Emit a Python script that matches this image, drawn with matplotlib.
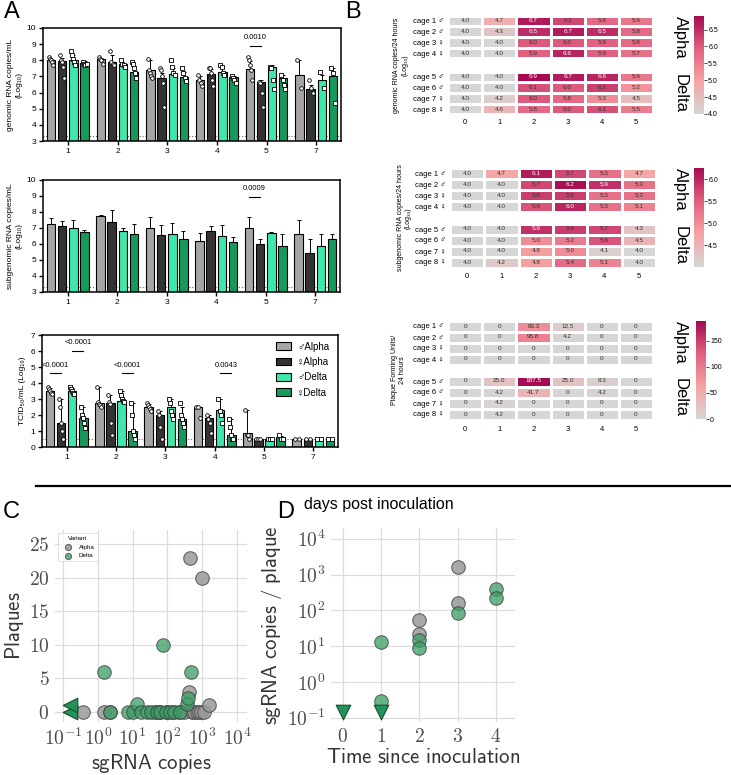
import numpy as np
import matplotlib
matplotlib.use('Agg')
import matplotlib.pyplot as plt
from matplotlib.colors import LinearSegmentedColormap, Normalize
from matplotlib.patches import Patch
from matplotlib.lines import Line2D
from matplotlib.ticker import FuncFormatter

plt.rcParams['font.family'] = ['Liberation Sans', 'DejaVu Sans']
plt.rcParams['mathtext.fontset'] = 'cm'

# ---------------- data ----------------
days = ['1', '2', '3', '4', '5', '7']
groups = ['♂Alpha', '♀Alpha', '♂Delta', '♀Delta']

# panel A, genomic RNA (rows = groups, cols = days)
grna_mean = [[8.0, 8.05, 7.4, 6.75, 7.45, 7.1],
             [7.95, 7.9, 6.9, 7.15, 6.65, 6.2],
             [8.0, 7.75, 7.15, 7.3, 7.6, 6.8],
             [7.85, 7.3, 6.95, 6.95, 6.9, 7.0]]
grna_err = [[0.1, 0.1, 0.6, 0.3, 0.5, 0.9],
            [0.2, 0.4, 0.3, 0.3, 0.1, 0.3],
            [0.3, 0.1, 0.4, 0.3, 0.1, 0.3],
            [0.1, 0.3, 0.3, 0.1, 0.2, 0.5]]
grna_pts = [
    [[8.2, 8.1, 8.0, 7.9, 7.7], [8.2, 8.1, 8.0, 7.8], [8.1, 7.4, 7.2, 7.0, 6.9],
     [7.1, 6.8, 6.6, 6.4], [8.2, 8.0, 7.7, 7.4, 6.8], [8.0, 6.3]],
    [[8.3, 8.0, 7.9, 7.6, 6.9], [8.6, 7.9, 7.8, 7.7], [7.5, 7.4, 7.0, 6.6, 5.1],
     [7.5, 7.5, 7.2, 6.8, 6.4], [6.65, 6.6, 6.0, 5.1], [6.8, 6.3, 6.0]],
    [[8.6, 8.3, 8.1, 7.9, 7.7], [8.0, 7.8, 7.7, 7.6], [8.0, 7.6, 7.2, 7.1],
     [7.7, 7.6, 7.2, 7.1], [7.6, 7.5, 6.8, 6.2], [7.3, 6.3]],
    [[7.9, 7.8, 7.7, 7.8], [7.9, 7.8, 7.5, 7.2, 6.9], [7.5, 7.2, 6.9, 6.7],
     [7.0, 6.9, 6.8, 6.6], [7.1, 6.8, 6.5, 6.2], [7.5, 7.2, 5.35]],
]

# panel A, subgenomic RNA
sgrna_mean = [[7.25, 7.75, 7.0, 6.2, 7.0, 6.6],
              [7.1, 7.37, 6.57, 6.8, 6.0, 5.45],
              [6.97, 6.8, 6.6, 6.5, 6.7, 5.9],
              [6.75, 6.6, 6.3, 6.15, 5.9, 6.3]]
sgrna_err = [[0.35, 0.05, 0.7, 0.5, 0.7, 0.9],
             [0.35, 0.75, 0.6, 0.3, 0.3, 0.85],
             [0.5, 0.2, 0.7, 0.7, 0.05, 0.7],
             [0.15, 0.65, 0.5, 0.3, 0.7, 0.3]]

# panel A, TCID50
tcid_mean = [[3.5, 2.75, 2.5, 2.5, 0.85, 0.5],
             [1.5, 2.75, 2.0, 1.8, 0.5, 0.5],
             [3.5, 2.9, 2.5, 2.3, 0.5, 0.5],
             [1.8, 1.0, 1.75, 0.75, 0.6, 0.5]]
tcid_err = [[0.2, 1.0, 0.2, 0.0, 1.45, 0.0],
            [1.5, 0.5, 0.25, 0.2, 0.0, 0.0],
            [0.2, 0.6, 0.5, 0.7, 0.0, 0.0],
            [0.7, 1.75, 0.75, 1.0, 0.1, 0.0]]
tcid_pts = [
    [[3.75, 3.6, 3.5, 3.4, 3.3], [3.75, 2.8, 2.7, 2.6, 2.5], [2.75, 2.6, 2.5, 2.4, 2.25],
     [2.5, 2.5, 1.8], [2.3, 0.75, 0.75, 0.5], [0.5, 0.5]],
    [[3.0, 2.5, 1.5, 1.0, 0.5], [3.25, 2.8, 2.7, 1.5, 0.75], [2.25, 2.0, 1.25, 0.5],
     [2.0, 1.75, 1.5, 0.9], [0.5, 0.5, 0.5], [0.5, 0.5]],
    [[3.75, 3.6, 3.5, 3.4, 3.3], [3.5, 3.25, 3.0, 2.9, 2.8], [3.0, 2.75, 2.25, 2.0, 1.75],
     [3.0, 2.25, 2.0, 1.5], [0.5, 0.5, 0.5], [0.5, 0.5]],
    [[2.5, 2.0, 1.8, 1.5, 1.2], [2.75, 2.0, 1.0, 0.75, 0.5], [2.75, 2.0, 1.75, 1.5, 1.25],
     [1.75, 1.25, 0.75, 0.5, 0.5], [0.75, 0.5, 0.5], [0.5, 0.5]],
]

# significance: (day index, group a, group b, y, label)
grna_sig = [(4, 0, 1, 8.9, '0.0010')]
sgrna_sig = [(4, 0, 1, 8.95, '0.0009')]
tcid_sig = [(0, 0, 1, 4.6, '<0.0001'), (0, 2, 3, 6.0, '<0.0001'),
            (1, 2, 3, 4.6, '<0.0001'), (3, 2, 3, 4.6, '0.0043')]

# panel B heatmaps
cages = ['cage 1 ♂', 'cage 2 ♂', 'cage 3 ♀', 'cage 4 ♀',
         'cage 5 ♂', 'cage 6 ♂', 'cage 7 ♀', 'cage 8 ♀']
hm_days = [0, 1, 2, 3, 4, 5]
hm_grna = [[4.0, 4.7, 6.7, 6.2, 5.8, 5.6],
           [4.0, 4.3, 6.5, 6.7, 6.5, 5.8],
           [4.0, 4.0, 6.0, 6.0, 5.9, 5.8],
           [4.0, 4.0, 5.9, 6.6, 5.9, 5.7],
           [4.0, 4.0, 6.9, 6.7, 6.6, 5.6],
           [4.0, 4.0, 6.1, 6.0, 6.3, 5.2],
           [4.0, 4.2, 6.0, 5.8, 5.3, 4.5],
           [4.0, 4.6, 5.8, 6.0, 6.1, 5.5]]
hm_sgrna = [[4.0, 4.7, 6.1, 5.7, 5.3, 4.7],
            [4.0, 4.0, 5.7, 6.2, 5.9, 5.3],
            [4.0, 4.0, 5.8, 5.8, 5.3, 5.3],
            [4.0, 4.0, 5.6, 6.0, 5.3, 5.1],
            [4.0, 4.0, 5.9, 5.8, 5.7, 4.3],
            [4.0, 4.0, 5.0, 5.2, 5.6, 4.5],
            [4.0, 4.0, 4.8, 5.0, 4.1, 4.0],
            [4.0, 4.2, 4.8, 5.4, 5.1, 4.0]]
hm_pfu = [[0, 0, 83.3, 12.5, 0, 0],
          [0, 0, 95.8, 4.2, 0, 0],
          [0, 0, 0, 0, 0, 0],
          [0, 0, 0, 0, 0, 0],
          [0, 25.0, 187.5, 25.0, 8.3, 0],
          [0, 4.2, 41.7, 0, 4.2, 0],
          [0, 4.2, 0, 0, 0, 0],
          [0, 4.2, 0, 0, 0, 0]]

# panel C
c_alpha_sg = [0.37, 1.5, 2.2, 44, 60, 95, 150, 220, 300, 420, 450, 500, 600, 700, 800, 900, 980, 1100, 1600]
c_alpha_pl = [0, 0, 0, 0, 0, 0, 0, 0, 0, 3, 23, 0, 0, 0, 0, 0, 20, 0, 1]
c_delta_sg = [1.5, 2.2, 7.4, 10.3, 13.5, 18, 26, 35, 50, 60, 75, 90, 120, 160, 230, 360, 400, 480]
c_delta_pl = [6, 0, 0, 0, 1.2, 0, 0, 0, 0, 0, 10, 0, 0, 0, 0, 1.2, 2.1, 6]
c_delta_low_sg = [0.16, 0.16]
c_delta_low_pl = [0, 1]

# panel D
d_alpha_t = [2, 2, 3, 3]
d_alpha_r = [55, 22, 1650, 160]
d_delta_t = [1, 1, 2, 2, 3, 4, 4]
d_delta_r = [13, 0.3, 15, 9, 85, 400, 225]
d_delta_low_t = [0, 1]
d_delta_low_r = [0.14, 0.14]

# ---------------- figure ----------------
W, H = 731, 775
fig = plt.figure(figsize=(W / 100, H / 100), dpi=100)


def px_axes(l, t, r, b):
    return fig.add_axes([l / W, 1 - b / H, (r - l) / W, (b - t) / H])


bar_cols = ['#a5a5a5', '#333333', '#3ee8ad', '#159a5c']
off = np.array([-1.5, -0.5, 0.5, 1.5]) * 0.225
bw = 0.17


def bar_panel(ax, mean, err, pts, ylim, lod, ylabel, sig):
    x = np.arange(len(days))
    for g in range(4):
        xs = x + off[g]
        m = np.array(mean[g])
        ax.errorbar(xs, m, yerr=[np.zeros(len(m)), err[g]], fmt='none', ecolor='black',
                    elinewidth=0.7, capsize=1.6, capthick=0.7, zorder=1)
        ax.bar(xs, m - ylim[0], bottom=ylim[0], width=bw, color=bar_cols[g],
               edgecolor='black', linewidth=0.8, zorder=2)
        if pts is not None:
            mk = 'o' if g < 2 else 's'
            for d in range(len(days)):
                ys = pts[g][d]
                jx = np.linspace(-0.04, 0.04, len(ys))
                ax.scatter(xs[d] + jx, ys, s=7, marker=mk, facecolor='white',
                           edgecolor='black', linewidth=0.6, zorder=3)
    ax.axhline(lod, color='#555555', ls=(0, (1, 2)), lw=0.7, zorder=0)
    for d, a, b, y, txt in sig:
        x0, x1 = d + off[a], d + off[b]
        ax.plot([x0, x1], [y, y], color='black', lw=0.8)
        ax.text((x0 + x1) / 2, y + 0.3, txt, ha='center', va='bottom', fontsize=5.5)
    ax.set_xlim(-0.5, 5.5)
    ax.set_ylim(*ylim)
    ax.set_yticks(range(int(ylim[0]), int(ylim[1]) + 1))
    ax.set_xticks(x)
    ax.set_xticklabels(days)
    ax.tick_params(labelsize=6, length=3, width=1, pad=2)
    for s in ax.spines.values():
        s.set_linewidth(1.1)
    ax.set_ylabel(ylabel, fontsize=6, labelpad=3)


ax1 = px_axes(43, 28, 341, 141)
bar_panel(ax1, grna_mean, grna_err, grna_pts, (3, 10), 3.3,
          'genomic RNA copies/mL\n(Log₁₀)', grna_sig)
ax2 = px_axes(43, 180, 340, 292)
bar_panel(ax2, sgrna_mean, sgrna_err, None, (3, 10), 3.3,
          'subgenomic RNA copies/mL\n(Log₁₀)', sgrna_sig)
ax3 = px_axes(42, 335, 338, 447)
bar_panel(ax3, tcid_mean, tcid_err, tcid_pts, (0, 7), 0.5,
          'TCID₅₀/mL (Log₁₀)', tcid_sig)
ax3.legend([Patch(facecolor=c, edgecolor='black', lw=0.8) for c in bar_cols], groups,
           loc='upper right', frameon=False, fontsize=7, handlelength=1.6,
           handleheight=0.8, labelspacing=0.55, handletextpad=0.6,
           bbox_to_anchor=(1.0, 1.02))

# ---------------- heatmaps ----------------
hm_cmap = LinearSegmentedColormap.from_list('gp', ['#d6d6d6', '#f5a3a3', '#e0607f', '#a50a52'])


def heat_panel(rows_y, left, right, data, vmin, vmax, fmt, cbar_box, cticks, ylabel, lab_x, tick_y):
    data = np.array(data, dtype=float)
    norm = Normalize(vmin, vmax)
    for k, (t, b) in enumerate(rows_y):
        ax = px_axes(left, t, right, b)
        sub = data[4 * k:4 * k + 4]
        mesh = ax.pcolormesh(np.arange(7) - 0.5, np.arange(5) - 0.5, sub, cmap=hm_cmap,
                             norm=norm, edgecolors='white', linewidth=1.0)
        ax.set_xlim(-0.5, 5.5)
        ax.set_ylim(3.5, -0.5)
        for i in range(4):
            for j in range(6):
                v = sub[i, j]
                col = 'white' if norm(v) > 0.82 else '#333333'
                ax.text(j, i, fmt(v), ha='center', va='center', fontsize=4.6, color=col)
        ax.set_yticks(range(4))
        ax.set_yticklabels(cages[4 * k:4 * k + 4], fontsize=5.5)
        ax.tick_params(length=0, pad=3)
        ax.set_xticks([])
        for s in ax.spines.values():
            s.set_visible(False)
    for j, d in enumerate(hm_days):
        x = left + (right - left) * (j + 0.5) / 6
        fig.text(x / W, 1 - tick_y / H, str(d), ha='center', va='center', fontsize=5.5)
    cax = px_axes(*cbar_box)
    cb = fig.colorbar(mesh, cax=cax, ticks=cticks)
    cb.outline.set_visible(False)
    cax.tick_params(labelsize=5, length=2, width=0.5, pad=1)
    top, bot = rows_y[0][0], rows_y[1][1]
    fig.text(lab_x / W, 1 - (top + bot) / 2 / H, ylabel, rotation=90, ha='center',
             va='center', fontsize=5, linespacing=1.2)
    for name, (t, b) in zip(['Alpha', 'Delta'], rows_y):
        fig.text(680 / W, 1 - (t + b) / 2 / H, name, rotation=270, ha='center',
                 va='center', fontsize=12)


f1 = lambda v: f'{v:.1f}'
f3 = lambda v: '0' if v == 0 else f'{v:.1f}'

heat_panel([(15.6, 58.4), (71.6, 114.4)], 448, 653, hm_grna, 4.0, 6.9, f1,
           (694, 16, 704, 114), [4.0, 4.5, 5.0, 5.5, 6.0, 6.5],
           'genomic RNA copies/24 hours\n(Log₁₀)', 401, 123)
heat_panel([(168, 211.5), (223.5, 267.5)], 450, 656, hm_sgrna, 4.0, 6.25, f1,
           (694, 168, 704, 267), [4.5, 5.0, 5.5, 6.0],
           'subgenomic RNA copies/24 hours\n(Log₁₀)', 404, 277)
heat_panel([(320.5, 364.5), (375.5, 419.5)], 448, 653, hm_pfu, 0, 187.5, f3,
           (696, 321, 706, 419), [0, 50, 100, 150],
           'Plaque Forming Units/\n24 hours', 399, 429)

# divider and shared label
fig.add_artist(Line2D([36 / W, 730 / W], [1 - 486 / H] * 2, color='black', lw=1.6))
fig.text(379 / W, 1 - 505 / H, 'days post inoculation', ha='center', va='center', fontsize=11.5)

# ---------------- panels C and D ----------------
grey_c = '#9a9a9a'
green_c = '#3a9d64'
tick_col = '#4d4d4d'


def style_cd(ax):
    for s in ax.spines.values():
        s.set_visible(False)
    ax.grid(True, color='#dcdcdc', lw=0.9)
    ax.set_axisbelow(True)
    ax.tick_params(length=0, labelsize=14, colors=tick_col, pad=4)


logfmt = FuncFormatter(lambda v, p: f'$10^{{{int(round(np.log10(v)))}}}$')

axc = px_axes(55, 530, 247, 722)
axc.scatter(c_alpha_sg, c_alpha_pl, s=95, color=grey_c, alpha=0.85, edgecolor='#505050',
            linewidth=0.8, label='Alpha', zorder=3)
axc.scatter(c_delta_sg, c_delta_pl, s=95, color=green_c, alpha=0.75, edgecolor='#404040',
            linewidth=0.8, label='Delta', zorder=3)
axc.scatter(c_delta_low_sg, c_delta_low_pl, s=110, marker='<', color='#23915a',
            edgecolor='#1b4d33', linewidth=0.8, zorder=3)
axc.set_xscale('log')
axc.set_xlim(10 ** -1.23, 10 ** 4.29)
axc.set_ylim(-1.5, 27.1)
axc.set_xticks([10.0 ** k for k in range(-1, 5)])
axc.xaxis.set_minor_locator(plt.NullLocator())
axc.xaxis.set_major_formatter(logfmt)
axc.set_yticks([0, 5, 10, 15, 20, 25])
axc.yaxis.set_major_formatter(FuncFormatter(lambda v, p: f'${int(v)}$'))
style_cd(axc)
axc.set_xlabel('$\\mathsf{sgRNA\\ copies}$', fontsize=15, color='#333333', labelpad=2)
axc.set_ylabel('$\\mathsf{Plaques}$', fontsize=15, color='#333333', labelpad=2)
leg = axc.legend(title='Variant', loc='upper left', fontsize=4.5, title_fontsize=4.5,
                 markerscale=0.45, frameon=True, borderpad=0.5, handletextpad=0.8,
                 bbox_to_anchor=(0.0, 1.0))
leg.get_frame().set_edgecolor('#cccccc')
leg.get_frame().set_linewidth(0.5)

axd = px_axes(331, 528, 515, 722)
axd.scatter(d_alpha_t, d_alpha_r, s=95, color=grey_c, alpha=0.85, edgecolor='#505050',
            linewidth=0.8, zorder=3)
axd.scatter(d_delta_t, d_delta_r, s=95, color=green_c, alpha=0.75, edgecolor='#404040',
            linewidth=0.8, zorder=3)
axd.scatter(d_delta_low_t, d_delta_low_r, s=110, marker='v', color='#23915a',
            edgecolor='#1b4d33', linewidth=0.8, zorder=3)
axd.set_yscale('log')
axd.set_xlim(-0.3, 4.5)
axd.set_ylim(10 ** -1.12, 10 ** 4.3)
axd.set_xticks([0, 1, 2, 3, 4])
axd.xaxis.set_major_formatter(FuncFormatter(lambda v, p: f'${int(v)}$'))
axd.set_yticks([10.0 ** k for k in range(-1, 5)])
axd.yaxis.set_minor_locator(plt.NullLocator())
axd.yaxis.set_major_formatter(logfmt)
style_cd(axd)
axd.set_xlabel('$\\mathsf{Time\\ since\\ inoculation}$', fontsize=15, color='#333333', labelpad=2)
axd.set_ylabel('$\\mathsf{sgRNA\\ copies\\ /\\ plaque}$', fontsize=15, color='#333333', labelpad=2)

# panel letters
for txt, x, y in [('A', 4, 12), ('B', 345, 12), ('C', 3, 512), ('D', 277, 512)]:
    fig.text(x / W, 1 - y / H, txt, fontsize=17, ha='left', va='center')

fig.savefig('out.png', dpi=100)
